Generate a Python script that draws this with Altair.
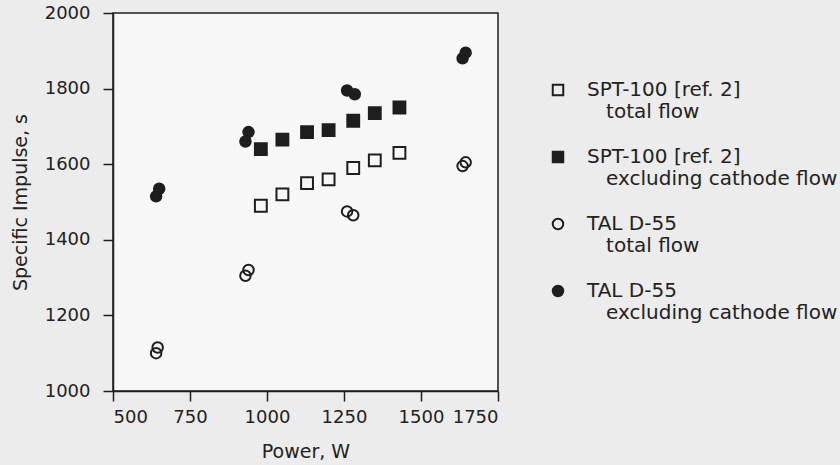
import altair as alt
import pandas as pd

# SPT-100 [ref. 2]: discharge power (W) and specific impulse (s)
spt_power = [980, 1050, 1130, 1200, 1280, 1350, 1430]
spt_total = [1490, 1520, 1550, 1560, 1590, 1610, 1630]
spt_excl = [1640, 1665, 1685, 1690, 1715, 1735, 1750]

# TAL D-55: duplicate runs at each power level
tal_power_total = [645, 640, 940, 930, 1260, 1280, 1645, 1635]
tal_total = [1115, 1100, 1320, 1305, 1475, 1465, 1605, 1595]
tal_power_excl = [650, 640, 940, 930, 1260, 1285, 1645, 1635]
tal_excl = [1535, 1515, 1685, 1660, 1795, 1785, 1895, 1880]

# Legend labels: "|" separates lines; a zero-width space keeps the
# indentation of the second line from being trimmed away.
INDENT = "\u200b" + "\u00a0" * 3
series_names = [
    "SPT-100 [ref. 2]|" + INDENT + "total flow",
    "SPT-100 [ref. 2]|" + INDENT + "excluding cathode flow",
    "TAL D-55|" + INDENT + "total flow",
    "TAL D-55|" + INDENT + "excluding cathode flow",
]
series_shapes = ["square", "square", "circle", "circle"]
INK = "#1e1e1e"
series_fills = ["transparent", INK, "transparent", INK]

x_ticks = [500, 750, 1000, 1250, 1500, 1750]
y_ticks = [1000, 1200, 1400, 1600, 1800, 2000]

rows = []
for name, family, xs, ys in [
    (series_names[0], "SPT", spt_power, spt_total),
    (series_names[1], "SPT", spt_power, spt_excl),
    (series_names[2], "TAL", tal_power_total, tal_total),
    (series_names[3], "TAL", tal_power_excl, tal_excl),
]:
    for p, v in zip(xs, ys):
        rows.append({"power": p, "isp": v, "series": name, "family": family})
df = pd.DataFrame(rows)

FONT = "DejaVu Sans"

x_enc = alt.X(
    "power:Q",
    scale=alt.Scale(domain=[500, 1750], nice=False, zero=False),
    axis=alt.Axis(
        title="Power, W",
        values=x_ticks,
        format="d",
        titleX=192.5,
        titleY=60,
        titleAlign="center",
        titleBaseline="middle",
        labelPadding=7,
    ),
)
y_enc = alt.Y(
    "isp:Q",
    scale=alt.Scale(domain=[1000, 2000], nice=False, zero=False),
    axis=alt.Axis(
        title="Specific Impulse, s",
        values=y_ticks,
        format="d",
        titleX=-93,
        titleY=189,
        titleAlign="center",
        titleBaseline="middle",
        labelPadding=13,
    ),
)
shape_enc = alt.Shape(
    "series:N",
    scale=alt.Scale(domain=series_names, range=series_shapes),
    legend=alt.Legend(
        title=None,
        orient="none",
        legendX=435,
        legendY=67,
        labelExpr="split(datum.label, '|')",
        labelFont=FONT,
        labelFontSize=20,
        labelColor="#222222",
        labelLimit=500,
        labelOffset=19,
        labelBaseline="middle",
        symbolSize=110,
        symbolStrokeColor=INK,
        symbolStrokeWidth=2,
        rowPadding=25,
        padding=0,
    ),
)
fill_enc = alt.Fill(
    "series:N",
    scale=alt.Scale(domain=series_names, range=series_fills),
    legend=None,
)
stroke_enc = alt.Stroke(
    "series:N",
    scale=alt.Scale(domain=series_names, range=[INK] * 4),
    legend=None,
)

base = alt.Chart(df).encode(
    x=x_enc, y=y_enc, shape=shape_enc, fill=fill_enc, stroke=stroke_enc
)

squares = base.transform_filter(alt.datum.family == "SPT").mark_point(
    filled=True, size=140, strokeWidth=2, opacity=1
)
circles = base.transform_filter(alt.datum.family == "TAL").mark_point(
    filled=True, size=110, strokeWidth=2, opacity=1
)

chart = (
    alt.layer(squares, circles)
    .properties(
        width=385,
        height=378,
        autosize=alt.AutoSizeParams(type="none"),
        padding={"left": 113, "top": 13, "right": 342, "bottom": 74},
        background="#ececec",
    )
    .configure_view(fill="#f7f7f7", stroke=INK, strokeWidth=1.5)
    .configure_axis(
        grid=False,
        domainColor=INK,
        domainWidth=1.5,
        tickColor=INK,
        tickWidth=1.5,
        tickSize=10,
        labelFont=FONT,
        labelFontSize=18,
        labelColor="#222222",
        titleFont=FONT,
        titleFontSize=19,
        titleFontWeight="normal",
        titleColor="#222222",
    )
)

chart.save("out.html", embed_options={"renderer": "svg", "actions": False})
